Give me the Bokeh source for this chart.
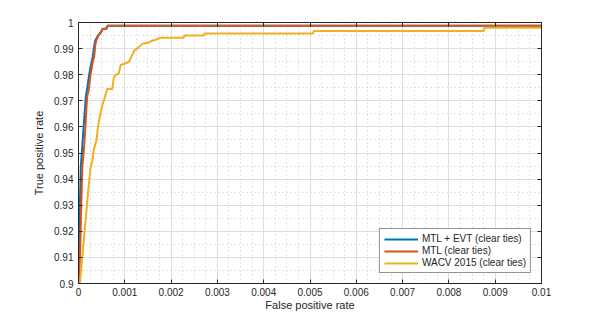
import numpy as np
from bokeh.plotting import figure
from bokeh.models import FixedTicker, LinearAxis, Range1d, Legend, LegendItem
from bokeh.embed import file_html
from bokeh.resources import INLINE

# ---- data ----
mtl_evt_fpr = [0.0, 0.00001, 0.00003, 0.00005, 0.00008, 0.00011, 0.00014, 0.00016, 0.00019,
               0.00023, 0.00026, 0.00030, 0.00033, 0.00036, 0.00042, 0.00047, 0.00052,
               0.00060, 0.00063, 0.01]
mtl_evt_tpr = [0.9, 0.91, 0.93, 0.945, 0.952, 0.960, 0.967, 0.972, 0.975,
               0.980, 0.983, 0.986, 0.990, 0.993, 0.995, 0.996, 0.9975,
               0.9977, 0.9988, 0.9988]

mtl_fpr = [0.0, 0.00002, 0.00004, 0.00006, 0.00008, 0.00010, 0.00012, 0.00013, 0.00015,
           0.00017, 0.00019, 0.00022, 0.00025, 0.00028, 0.00031, 0.00034, 0.00036,
           0.00038, 0.00043, 0.00048, 0.00052, 0.00060, 0.00063, 0.01]
mtl_tpr = [0.9, 0.905, 0.915, 0.930, 0.944, 0.948, 0.952, 0.955, 0.960,
           0.967, 0.972, 0.974, 0.979, 0.982, 0.985, 0.987, 0.991,
           0.993, 0.995, 0.996, 0.9975, 0.9976, 0.9988, 0.9988]

wacv_fpr = [0.00003, 0.00008, 0.00013, 0.00017, 0.00022, 0.00026, 0.00030, 0.00033, 0.00039,
            0.00042, 0.00046, 0.00051, 0.00055, 0.00062, 0.00073, 0.00076, 0.00080, 0.00087,
            0.00091, 0.00101, 0.00109, 0.00114, 0.00121, 0.00127, 0.00138, 0.00150, 0.00157,
            0.00168, 0.00177, 0.00227, 0.00229, 0.00271, 0.00272, 0.00507, 0.00508, 0.00875,
            0.00877, 0.01]
wacv_tpr = [0.9, 0.9095, 0.920, 0.9275, 0.9375, 0.9445, 0.947, 0.9513, 0.955,
            0.960, 0.964, 0.968, 0.9703, 0.9745, 0.9745, 0.9786, 0.9798, 0.9805,
            0.9837, 0.9843, 0.9849, 0.9868, 0.9894, 0.990, 0.9919, 0.9922, 0.9929,
            0.9935, 0.9942, 0.9942, 0.995, 0.995, 0.9958, 0.9958, 0.9967, 0.9967,
            0.998, 0.998]

series_names = ["MTL + EVT (clear ties)", "MTL (clear ties)", "WACV 2015 (clear ties)"]
series_colors = ["#0072BD", "#D95319", "#EDB120"]

x_ticks = [0.0, 0.001, 0.002, 0.003, 0.004, 0.005, 0.006, 0.007, 0.008, 0.009, 0.01]
x_tick_labels = ["0", "0.001", "0.002", "0.003", "0.004", "0.005", "0.006", "0.007",
                 "0.008", "0.009", "0.01"]
y_ticks = [0.9, 0.91, 0.92, 0.93, 0.94, 0.95, 0.96, 0.97, 0.98, 0.99, 1.0]
y_tick_labels = ["0.9", "0.91", "0.92", "0.93", "0.94", "0.95", "0.96", "0.97",
                 "0.98", "0.99", "1"]

x_minor = [k * 0.00025 for k in range(41) if k % 4]
y_minor = [0.9 + k * 0.005 for k in range(21) if k % 2]

FONT = "Liberation Sans"
AX = "#262626"

p = figure(width=591, height=313,
           x_range=Range1d(0, 0.01), y_range=Range1d(0.9, 1.0),
           output_backend="svg", toolbar_location=None,
           min_border_left=78, min_border_right=50,
           min_border_top=22, min_border_bottom=28)

p.background_fill_color = "white"
p.border_fill_color = "white"
p.outline_line_color = AX
p.outline_line_width = 1

xt = FixedTicker(ticks=x_ticks, minor_ticks=x_minor)
yt = FixedTicker(ticks=y_ticks, minor_ticks=y_minor)

p.xaxis.ticker = xt
p.yaxis.ticker = yt
p.xaxis.major_label_overrides = dict(zip(x_ticks, x_tick_labels))
p.yaxis.major_label_overrides = dict(zip(y_ticks, y_tick_labels))
p.xaxis.axis_label = "False positive rate"
p.yaxis.axis_label = "True positive rate"

for ax in (p.xaxis[0], p.yaxis[0]):
    ax.axis_line_color = AX
    ax.major_tick_line_color = AX
    ax.major_tick_in = 4
    ax.major_tick_out = 0
    ax.minor_tick_in = 0
    ax.minor_tick_out = 0
    ax.major_label_text_font = FONT
    ax.major_label_text_font_size = "10px"
    ax.major_label_text_color = AX
    ax.axis_label_text_font = FONT
    ax.axis_label_text_font_size = "11px"
    ax.axis_label_text_font_style = "normal"
    ax.axis_label_text_color = AX
p.xaxis.major_label_standoff = 4
p.xaxis.axis_label_standoff = 0
p.yaxis.major_label_standoff = 5
p.yaxis.axis_label_standoff = 6

for loc, tk in (("above", xt), ("right", yt)):
    a = LinearAxis(ticker=tk, major_label_text_font_size="1px",
                   major_label_text_color=None, major_label_text_alpha=0,
                   major_tick_in=4, major_tick_out=0,
                   minor_tick_in=0, minor_tick_out=0,
                   major_label_standoff=0,
                   axis_line_color=AX, major_tick_line_color=AX)
    p.add_layout(a, loc)

for g in (p.xgrid[0], p.ygrid[0]):
    g.grid_line_color = "#dedede"
    g.grid_line_width = 1
    g.minor_grid_line_color = "#c8c8c8"
    g.minor_grid_line_dash = "1 3"
    g.minor_grid_line_width = 1

r1 = p.line(mtl_evt_fpr, mtl_evt_tpr, line_color=series_colors[0], line_width=2)
r2 = p.line(mtl_fpr, mtl_tpr, line_color=series_colors[1], line_width=2)
r3 = p.line(wacv_fpr, wacv_tpr, line_color=series_colors[2], line_width=2)

legend = Legend(items=[LegendItem(label=series_names[0], renderers=[r1]),
                       LegendItem(label=series_names[1], renderers=[r2]),
                       LegendItem(label=series_names[2], renderers=[r3])],
                location="bottom_right")
legend.border_line_color = AX
legend.border_line_width = 1
legend.background_fill_color = "white"
legend.background_fill_alpha = 1
legend.label_text_font = FONT
legend.label_text_font_size = "10px"
legend.label_text_color = AX
legend.glyph_width = 34
legend.glyph_height = 10
legend.label_height = 10
legend.spacing = 1
legend.padding = 4
legend.margin = 10
legend.label_standoff = 4
p.add_layout(legend)

open("out.html", "w").write(file_html(p, INLINE))
